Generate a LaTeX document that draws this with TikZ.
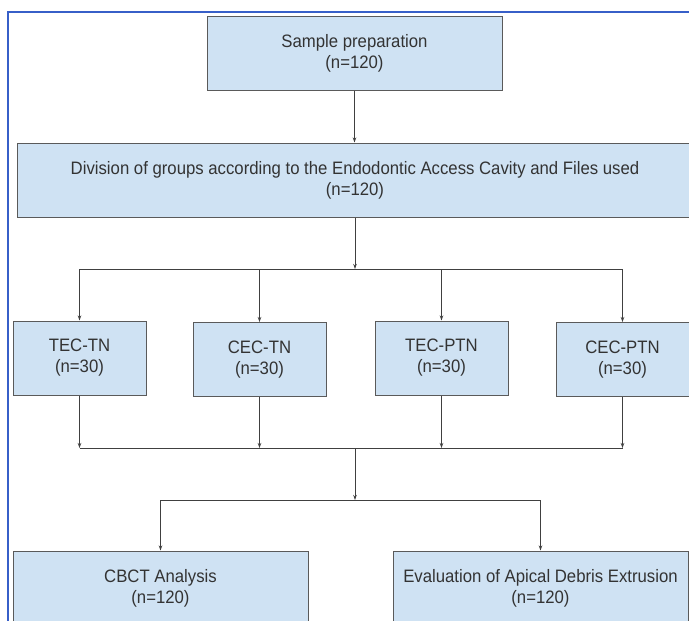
\documentclass[tikz,border=0pt]{standalone}
\usepackage{fontspec}
\setmainfont{Liberation Sans}[FakeStretch=0.93]
\usetikzlibrary{positioning}
\usetikzlibrary{arrows.meta}
\definecolor{boxfill}{RGB}{207,226,243}
\definecolor{boxline}{RGB}{90,90,90}
\definecolor{framec}{RGB}{55,95,200}
\tikzset{
    mybox/.style = {rectangle, draw=boxline, line width=1pt, fill=boxfill, align=center, inner sep=0pt, font=\fontsize{18}{21}\selectfont, text=black!80},
    myboxs/.style = {mybox, minimum width=133pt, minimum height=74pt},
    myboxm/.style = {mybox, minimum width=295pt, minimum height=74pt},
    myboxl/.style = {mybox, minimum width=676pt, minimum height=74pt},
    edgen/.style = {-{Stealth[length=5pt,width=3.5pt]}, line width=0.8pt, black!75},
    edgel/.style = {-, line width=0.8pt, black!75},
    framel/.style = {-, line width=1.4pt, framec}
}

\begin{document}
\begin{tikzpicture}[x=1pt,y=-1pt]
\clip (0,0) rectangle (689,621);
\fill[white] (0,0) rectangle (689,621);
\draw[framel] (8,640) -- (8,12) -- (700,12);

\node[myboxm] at (354.5, 53.0) (samp) {Sample preparation\\(n=120)};
\node[myboxl] at (355.0,180.0) (div) {Division of groups according to the Endodontic Access Cavity and Files used\\(n=120)};
\node[myboxs] at ( 79.5,358.0) (g1) {TEC-TN\\(n=30)};
\node[myboxs] at (259.5,359.5) (g2) {CEC-TN\\(n=30)};
\node[myboxs] at (441.5,358.0) (g3) {TEC-PTN\\(n=30)};
\node[myboxs] at (622.5,359.5) (g4) {CEC-PTN\\(n=30)};
\node[myboxm] at (160.5,588.0) (cbct) {CBCT Analysis\\(n=120)};
\node[myboxm] at (540.5,588.0) (eval) {Evaluation of Apical Debris Extrusion\\(n=120)};

\coordinate (split) at (355,269);
\coordinate (join) at (355,448);
\coordinate (split2) at (355,500);

\draw[edgen] (samp.south) -- (samp.south |- div.north);
\draw[edgen] (div.south) -- (split);
\draw[edgel] (g1 |- split) -- (g4 |- split);
\draw[edgen] (g1 |- split) -- (g1);
\draw[edgen] (g2 |- split) -- (g2);
\draw[edgen] (g3 |- split) -- (g3);
\draw[edgen] (g4 |- split) -- (g4);
\draw[edgen] (g1) -- (g1 |- join);
\draw[edgen] (g2) -- (g2 |- join);
\draw[edgen] (g3) -- (g3 |- join);
\draw[edgen] (g4) -- (g4 |- join);
\draw[edgel] (g1 |- join) -- (g4 |- join);
\draw[edgen] (join) -- (split2);
\draw[edgel] (cbct |- split2) -- (eval |- split2);
\draw[edgen] (cbct |- split2) -- (cbct);
\draw[edgen] (eval |- split2) -- (eval);

\end{tikzpicture}
\end{document}
